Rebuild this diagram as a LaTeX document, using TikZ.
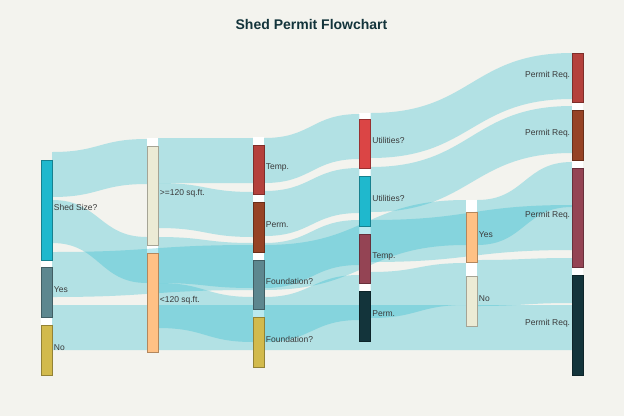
\documentclass[tikz,border=0pt]{standalone}
\usepackage{fontspec}
\setmainfont{Liberation Sans}
\usetikzlibrary{calc}

\pgfdeclarelayer{slots}
\pgfdeclarelayer{flows}
\pgfsetlayers{slots,flows,main}

\definecolor{paper}{HTML}{F3F3EE}
\definecolor{flowc}{HTML}{1FB8CD}
\definecolor{cyanN}{HTML}{1FB8CD}
\definecolor{slate}{HTML}{5D878F}
\definecolor{mustard}{HTML}{D2BA4C}
\definecolor{cream}{HTML}{ECEBD5}
\definecolor{peach}{HTML}{FFC185}
\definecolor{brick}{HTML}{B4413C}
\definecolor{rust}{HTML}{964325}
\definecolor{redN}{HTML}{DB4545}
\definecolor{plum}{HTML}{944454}
\definecolor{ink}{HTML}{13343B}
\definecolor{labtxt}{HTML}{3A3A3A}

% band from node #1 to node #2: top/bottom at start (#3,#4), at end (#5,#6)
\newcommand{\flow}[6]{%
  \fill[flow] (#1.east |- 0,#3)
    .. controls ($(#1.east |- 0,#3)!.5!(#2.west |- 0,#3)$) and ($(#1.east |- 0,#5)!.5!(#2.west |- 0,#5)$) .. (#2.west |- 0,#5)
    -- (#2.west |- 0,#6)
    .. controls ($(#1.east |- 0,#6)!.5!(#2.west |- 0,#6)$) and ($(#1.east |- 0,#4)!.5!(#2.west |- 0,#4)$) .. (#1.east |- 0,#4)
    -- cycle;}

\begin{document}
\begin{tikzpicture}[
  x=1pt, y=-1pt,
  bar/.style={
    draw=#1!70!black, fill=#1, line width=0.4pt,
    inner sep=0pt, minimum width=11pt
  },
  lab/.style={
    font=\fontsize{8.5}{10}\selectfont, text=labtxt,
    inner sep=1.5pt, anchor=base west
  },
  labl/.style={lab, anchor=base east},
  flow/.style={fill=flowc, fill opacity=0.3},
  slot/.style={fill=white}
]
\useasboundingbox (0,0) rectangle (624,416);

% Title
\node[font=\fontsize{14}{16}\selectfont\bfseries, text=ink, anchor=base] (title) at (311.5,29.7) {Shed Permit Flowchart};

% 1. Shed size column
\node[bar=cyanN, minimum height=100pt] (shed) at (46.5,210) {};
\node[bar=slate, minimum height=50pt] (yes1) at (46.5,292) {};
\node[bar=mustard, minimum height=50pt] (no1) at (46.5,350) {};

% 2. Size column
\node[bar=cream, minimum height=99pt] (ge) at (152.5,195.5) {};
\node[bar=peach, minimum height=99pt] (lt) at (152.5,302.5) {};

% 3. Type column
\node[bar=brick, minimum height=49pt] (tmp3) at (258.5,169.5) {};
\node[bar=rust, minimum height=50pt] (prm3) at (258.5,227) {};
\node[bar=slate, minimum height=49pt] (fnd1) at (258.5,284.5) {};
\node[bar=mustard, minimum height=50pt] (fnd2) at (258.5,342) {};

% 4. Utilities column
\node[bar=redN, minimum height=49pt] (util1) at (365,143.5) {};
\node[bar=cyanN, minimum height=50pt] (util2) at (365,201) {};
\node[bar=plum, minimum height=49pt] (tmp4) at (365,258.5) {};
\node[bar=ink, minimum height=50pt] (prm4) at (365,316) {};

% 5. Answer column
\node[bar=peach, minimum height=50pt] (yes5) at (471.5,237) {};
\node[bar=cream, minimum height=50pt] (no5) at (471.5,301) {};

% 6. Permit column
\node[bar=brick, minimum height=49pt] (pr1) at (577.5,77.5) {};
\node[bar=rust, minimum height=50pt] (pr2) at (577.5,135) {};
\node[bar=plum, minimum height=99pt] (pr3) at (577.5,217.5) {};
\node[bar=ink, minimum height=100pt] (pr4) at (577.5,325) {};

% Labels
\node[lab] (shed-l) at (shed.east) {Shed Size?};
\node[lab] (yes1-l) at (yes1.east) {Yes};
\node[lab] (no1-l) at (no1.east) {No};
\node[lab] (ge-l) at (ge.east) {>=120 sq.ft.};
\node[lab] (lt-l) at (lt.east) {<120 sq.ft.};
\node[lab] (tmp3-l) at (tmp3.east) {Temp.};
\node[lab] (prm3-l) at (prm3.east) {Perm.};
\node[lab] (fnd1-l) at (fnd1.east) {Foundation?};
\node[lab] (fnd2-l) at (fnd2.east) {Foundation?};
\node[lab] (util1-l) at (util1.east) {Utilities?};
\node[lab] (util2-l) at (util2.east) {Utilities?};
\node[lab] (tmp4-l) at (tmp4.east) {Temp.};
\node[lab] (prm4-l) at (prm4.east) {Perm.};
\node[lab] (yes5-l) at (yes5.east) {Yes};
\node[lab] (no5-l) at (no5.east) {No};
\node[labl] (pr1-l) at (pr1.west) {Permit Req.};
\node[labl] (pr2-l) at (pr2.west) {Permit Req.};
\node[labl] (pr3-l) at (pr3.west) {Permit Req.};
\node[labl] (pr4-l) at (pr4.west) {Permit Req.};

% Paper and node slots
\begin{pgfonlayer}{slots}
  \fill[paper] (0,0) rectangle (624,416);
  \fill[slot] (shed.north west) rectangle (no1.south east);
  \fill[slot] (ge.west |- 0,138) rectangle (lt.south east);
  \fill[slot] (tmp3.west |- 0,137) rectangle (fnd2.south east);
  \fill[slot] (util1.west |- 0,113) rectangle (prm4.south east);
  \fill[slot] (yes5.west |- 0,200) rectangle (no5.south east);
  \fill[slot] (pr1.north west) rectangle (pr4.south east);
\end{pgfonlayer}

% Flows
\begin{pgfonlayer}{flows}
  \flow{shed}{ge}{152}{197}{139}{184}
  \flow{shed}{lt}{200}{243}{237}{283}
  \flow{yes1}{fnd1}{252}{297}{245}{290}
  \flow{no1}{pr4}{305}{350}{305}{350}
  \flow{ge}{tmp3}{138}{183}{138}{183}
  \flow{ge}{prm3}{183}{228}{192}{237}
  \flow{lt}{fnd1}{237}{283}{243}{288}
  \flow{lt}{fnd2}{283}{328}{297}{342}
  \flow{tmp3}{util1}{138}{183}{114}{159}
  \flow{prm3}{util2}{191}{236}{168}{213}
  \flow{fnd1}{tmp4}{243}{288}{220}{265}
  \flow{fnd1}{yes5}{245}{290}{200}{245}
  \flow{fnd2}{prm4}{297}{342}{275}{320}
  \flow{prm4}{no5}{272}{318}{263}{305}
  \flow{util1}{pr1}{113}{158}{53}{99}
  \flow{util2}{pr2}{167}{212}{106}{153}
  \flow{tmp4}{pr3}{220}{262}{205}{250}
  \flow{yes5}{pr3}{200}{245}{162}{207}
  \flow{no5}{pr4}{260}{306}{258}{303}
\end{pgfonlayer}

\end{tikzpicture}
\end{document}
